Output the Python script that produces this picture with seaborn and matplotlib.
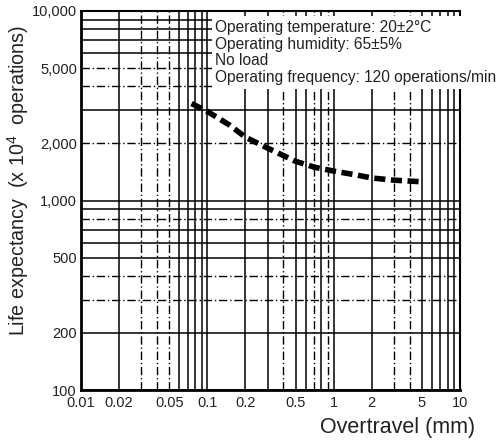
import matplotlib
matplotlib.use('Agg')
import matplotlib.pyplot as plt
import matplotlib.ticker as mticker
import seaborn as sns
import numpy as np
import pandas as pd

# --- data ---
overtravel = [0.075, 0.1, 0.15, 0.2, 0.3, 0.5, 0.7, 1, 1.5, 2, 3, 5]
life = [3250, 2950, 2500, 2160, 1890, 1610, 1500, 1430, 1365, 1315, 1280, 1255]

x_ticks = [0.01, 0.02, 0.05, 0.1, 0.2, 0.5, 1, 2, 5, 10]
x_labels = ['0.01', '0.02', '0.05', '0.1', '0.2', '0.5', '1', '2', '5', '10']
y_ticks = [100, 200, 500, 1000, 2000, 5000, 10000]
y_labels = ['100', '200', '500', '1,000', '2,000', '5,000', '10,000']

conditions = ['Operating temperature: 20\u00b12\u00b0C',
              'Operating humidity: 65\u00b15%',
              'No load',
              'Operating frequency: 120 operations/min']

# grid lines that look broken (dash-dot) in the scanned original
broken_x = [0.03, 0.04, 0.05, 0.4, 0.7, 0.9, 3, 4]
broken_y = [300, 400, 800, 2000, 4000, 5000]

df = pd.DataFrame({'overtravel': overtravel, 'life': life})

sns.set_style('white')
plt.rcParams['font.family'] = ['Liberation Sans', 'DejaVu Sans']
plt.rcParams['mathtext.fontset'] = 'custom'
plt.rcParams['mathtext.rm'] = 'Liberation Sans'

fig = plt.figure(figsize=(5.01, 4.41), dpi=100)
ax = fig.add_axes([81 / 501, 51 / 441, 379 / 501, 379 / 441])

sns.lineplot(data=df, x='overtravel', y='life', color='black', lw=4, ax=ax, zorder=5)
ax.lines[-1].set_dashes([2, 1])

ax.set_xscale('log')
ax.set_yscale('log')
ax.set_xlim(0.01, 10)
ax.set_ylim(100, 10000)

ax.xaxis.set_major_locator(mticker.FixedLocator(x_ticks))
ax.xaxis.set_major_formatter(mticker.FixedFormatter(x_labels))
ax.yaxis.set_major_locator(mticker.FixedLocator(y_ticks))
ax.yaxis.set_major_formatter(mticker.FixedFormatter(y_labels))
ax.xaxis.set_minor_locator(mticker.LogLocator(subs=np.arange(1, 10)))
ax.yaxis.set_minor_locator(mticker.LogLocator(subs=np.arange(1, 10)))
ax.xaxis.set_minor_formatter(mticker.NullFormatter())
ax.yaxis.set_minor_formatter(mticker.NullFormatter())

ax.grid(True, which='both', color='black', lw=1.1)
ax.tick_params(which='both', length=0, labelsize=10.5, labelcolor='#222222')
ax.tick_params(axis='x', pad=4)
ax.tick_params(axis='y', pad=3)

for side in ['left', 'bottom']:
    ax.spines[side].set_linewidth(2)
for side in ['top', 'right']:
    ax.spines[side].set_linewidth(1.5)
for s in ax.spines.values():
    s.set_color('black')

ax.set_xlabel('Overtravel (mm)', fontsize=15.5, color='#222222', ha='right')
ax.xaxis.set_label_coords(1.04, -0.07)
ax.set_ylabel('Life expectancy  (x 10$^4$  operations)', fontsize=14.2, color='#222222')
ax.yaxis.set_label_coords(-0.132, 0.553)

# conditions box, white background hides the grid underneath
ax.text(0.354, 0.977, '\n'.join(conditions), transform=ax.transAxes,
        ha='left', va='top', fontsize=11.2, color='#222222', linespacing=1.15,
        bbox=dict(facecolor='white', edgecolor='none', pad=2.5), zorder=10, clip_on=False)

fig.canvas.draw()
for tick in ax.xaxis.get_major_ticks() + ax.xaxis.get_minor_ticks():
    if np.any(np.isclose(tick.get_loc(), broken_x)):
        tick.gridline.set_dashes([6, 2, 1, 2])
        tick.gridline.set_linewidth(1)
for tick in ax.yaxis.get_major_ticks() + ax.yaxis.get_minor_ticks():
    if np.any(np.isclose(tick.get_loc(), broken_y)):
        tick.gridline.set_dashes([6, 2, 1, 2])
        tick.gridline.set_linewidth(1)

fig.savefig('out.png', dpi=100)
